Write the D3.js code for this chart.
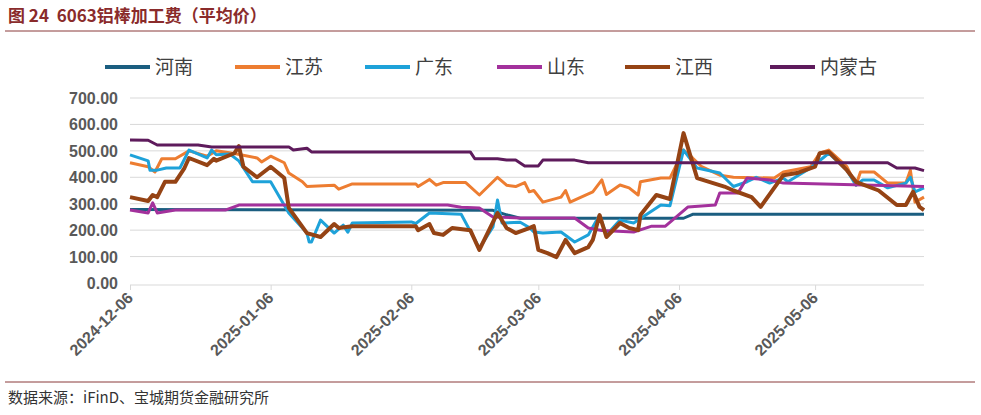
<!DOCTYPE html><html><head><meta charset="utf-8"><script src="https://cdn.jsdelivr.net/npm/d3@7"></script>
<style>body{margin:0;background:#fff;font-family:"Noto Sans CJK SC","Noto Sans",sans-serif}</style></head><body><svg id="c" width="981" height="415"></svg>
<script>
const startDate = "2024-12-06";
const tickLabels = ["2024-12-06","2025-01-06","2025-02-06","2025-03-06","2025-04-06","2025-05-06"];
const yTicks = [0,100,200,300,400,500,600,700];
// [day offset from 2024-12-06, value]
const henan = [[0,278],[80,275],[83,258],[86,245],[122,245],[124,260],[175,260]];
const jiangsu = [[0,455],[4,440],[5.5,420],[7,470],[10,470],[13,500],[17,480],[19,500],[23,490],[28,473],[29,458],[31,480],[34,455],[35,416],[38,383],[39,365],[45,370],[46,355],[49,375],[63,375],[63.5,365],[66,392],[67.5,370],[69,380],[74,380],[77,333],[81,400],[83,370],[85,365],[87,380],[88,345],[89,350],[91,306],[95,325],[96,350],[97,306],[102,345],[104,390],[105,335],[108,371],[110,360],[112,333],[112.5,383],[117,397],[119,397],[122,503],[124,473],[126,440],[130,408],[133,400],[142,397],[144,420],[150,440],[152,491],[154,503],[158,440],[160,370],[161,420],[164,420],[167,378],[171,378],[172,427],[173,306],[175,325]];
const guangdong = [[0,485],[4,462],[4.4,427],[6,427],[8,435],[11,435],[13,503],[17,473],[18,503],[19,485],[22,488],[24,462],[27,383],[31,383],[35,265],[39,189],[39.5,155],[40,155],[42,238],[45,189],[47,219],[48,192],[49,227],[62,231],[63,225],[66,265],[73,260],[77,132],[80,212],[81,314],[82,227],[86,230],[88,210],[89,193],[91,189],[95,193],[98,155],[101,182],[103.5,257],[105,182],[108,238],[111,227],[117,295],[119,292],[122,503],[125,435],[130,416],[133,365],[136,383],[138,400],[141,378],[144,397],[145,383],[150,435],[154,491],[158,427],[160,370],[161.5,390],[164,390],[167,360],[171,378],[172,400],[173,345],[175,360]];
const shandong = [[0,276],[4,265],[5,303],[6,265],[10,276],[21,276],[24,295],[70,295],[73,287],[77,284],[80,250],[86,246],[98,246],[101,208],[104,199],[111,193],[115,215],[118,215],[123,288],[129,295],[130,341],[134,341],[136,397],[141,390],[144,378],[175,365]];
const jiangxi = [[0,325],[4,310],[5,333],[6,325],[7.7,383],[10,383],[12,435],[13,473],[17,446],[18.5,470],[19,463],[23,491],[24,518],[25,440],[28,400],[31,440],[34,397],[35,284],[39,189],[42,174],[45,223],[46,208],[49,215],[63,215],[63.5,200],[66,223],[67,189],[69,182],[71,208],[75,200],[77,125],[81,265],[83,208],[85,189],[88,208],[89,215],[90,125],[92,113],[94,98],[96,163],[98,113],[101,136],[102,163],[103.5,257],[105,174],[108,227],[110,208],[112,200],[112.5,257],[116,333],[119,318],[122,567],[125,397],[131,365],[133,350],[137,325],[139,288],[144,408],[147,416],[151,440],[152,491],[154,496],[158,427],[160,383],[165,350],[169,295],[171,295],[172.6,345],[174,288],[175,276]];
const neimenggu = [[0,541],[4,540],[6,522],[15,522],[18,515],[35,515],[36,503],[39,510],[40,496],[75,496],[76,470],[81,470],[83,465],[85,465],[87,443],[90,443],[91,465],[98,465],[101,455],[167,455],[169,435],[173,435],[175,425]];
const seriesNames = ["河南","江苏","广东","山东","江西","内蒙古"];
const seriesData = [henan,jiangsu,guangdong,shandong,jiangxi,neimenggu];
const colors = ["#1b5e80","#ed7d31","#1ea2d9","#a3319c","#954314","#5e1b5c"];

const svg = d3.select("#c");
const d0 = d3.isoParse(startDate+"T00:00:00");
const toDate = o => new Date(d0.getTime()+o*86400000);
const x = d3.scaleTime().domain([d0, toDate(175)]).range([130,924]);
const y = d3.scaleLinear().domain([0,700]).range([283,98]);

svg.append("text").attr("x",8).attr("y",22).attr("fill","#8a2b2b").attr("font-size",17).attr("font-weight","bold").attr("xml:space","preserve").text("图 24  6063铝棒加工费（平均价）");
svg.append("line").attr("x1",5).attr("x2",975).attr("y1",31).attr("y2",31).attr("stroke","#8a3b3b").attr("stroke-width",1);
svg.append("line").attr("x1",5).attr("x2",975).attr("y1",382).attr("y2",382).attr("stroke","#8a3b3b").attr("stroke-width",1);
svg.append("text").attr("x",8).attr("y",403).attr("fill","#333").attr("font-size",15).text("数据来源：iFinD、宝城期货金融研究所");

svg.append("g").selectAll("line").data(yTicks.slice(1)).join("line")
 .attr("x1",130).attr("x2",924).attr("y1",d=>y(d)).attr("y2",d=>y(d)).attr("stroke","#d9d9d9").attr("stroke-width",1);
svg.append("g").selectAll("text").data(yTicks).join("text")
 .attr("x",118).attr("y",d=>y(d)+6).attr("text-anchor","end").attr("font-size",16).attr("font-weight","bold").attr("fill","#595959")
 .attr("font-family","Arial, Liberation Sans, sans-serif").text(d=>d.toFixed(2));
const tickDates = tickLabels.map(t=>d3.isoParse(t+"T00:00:00"));
const xa = svg.append("g").attr("transform","translate(0,285)").call(d3.axisBottom(x).tickValues(tickDates).tickSize(5).tickFormat(""));
xa.select(".domain").attr("stroke","#d9d9d9").attr("d","M130,0H924");
xa.selectAll(".tick line").attr("stroke","#d9d9d9");
svg.append("g").selectAll("text").data(tickDates).join("text")
 .attr("transform",(d,i)=>`translate(${x(d)+4},${299}) rotate(-45)`).attr("text-anchor","end")
 .attr("font-size",16).attr("font-weight","bold").attr("fill","#595959").attr("font-family","Arial, Liberation Sans, sans-serif")
 .text((d,i)=>tickLabels[i]);

const line = d3.line().x(d=>x(toDate(d[0]))).y(d=>y(d[1]));
seriesData.forEach((s,i)=>{
  svg.append("path").datum(s).attr("d",line).attr("fill","none").attr("stroke",colors[i])
   .attr("stroke-width", i===4?4:3).attr("stroke-linejoin","round");
});
const lx=[105,235,365,497,625,770];
seriesNames.forEach((n,i)=>{
  svg.append("line").attr("x1",lx[i]).attr("x2",lx[i]+45).attr("y1",67).attr("y2",67).attr("stroke",colors[i]).attr("stroke-width",4);
  svg.append("text").attr("x",lx[i]+50).attr("y",74).attr("font-size",19).attr("fill","#404040").text(n);
});
</script></body></html>
